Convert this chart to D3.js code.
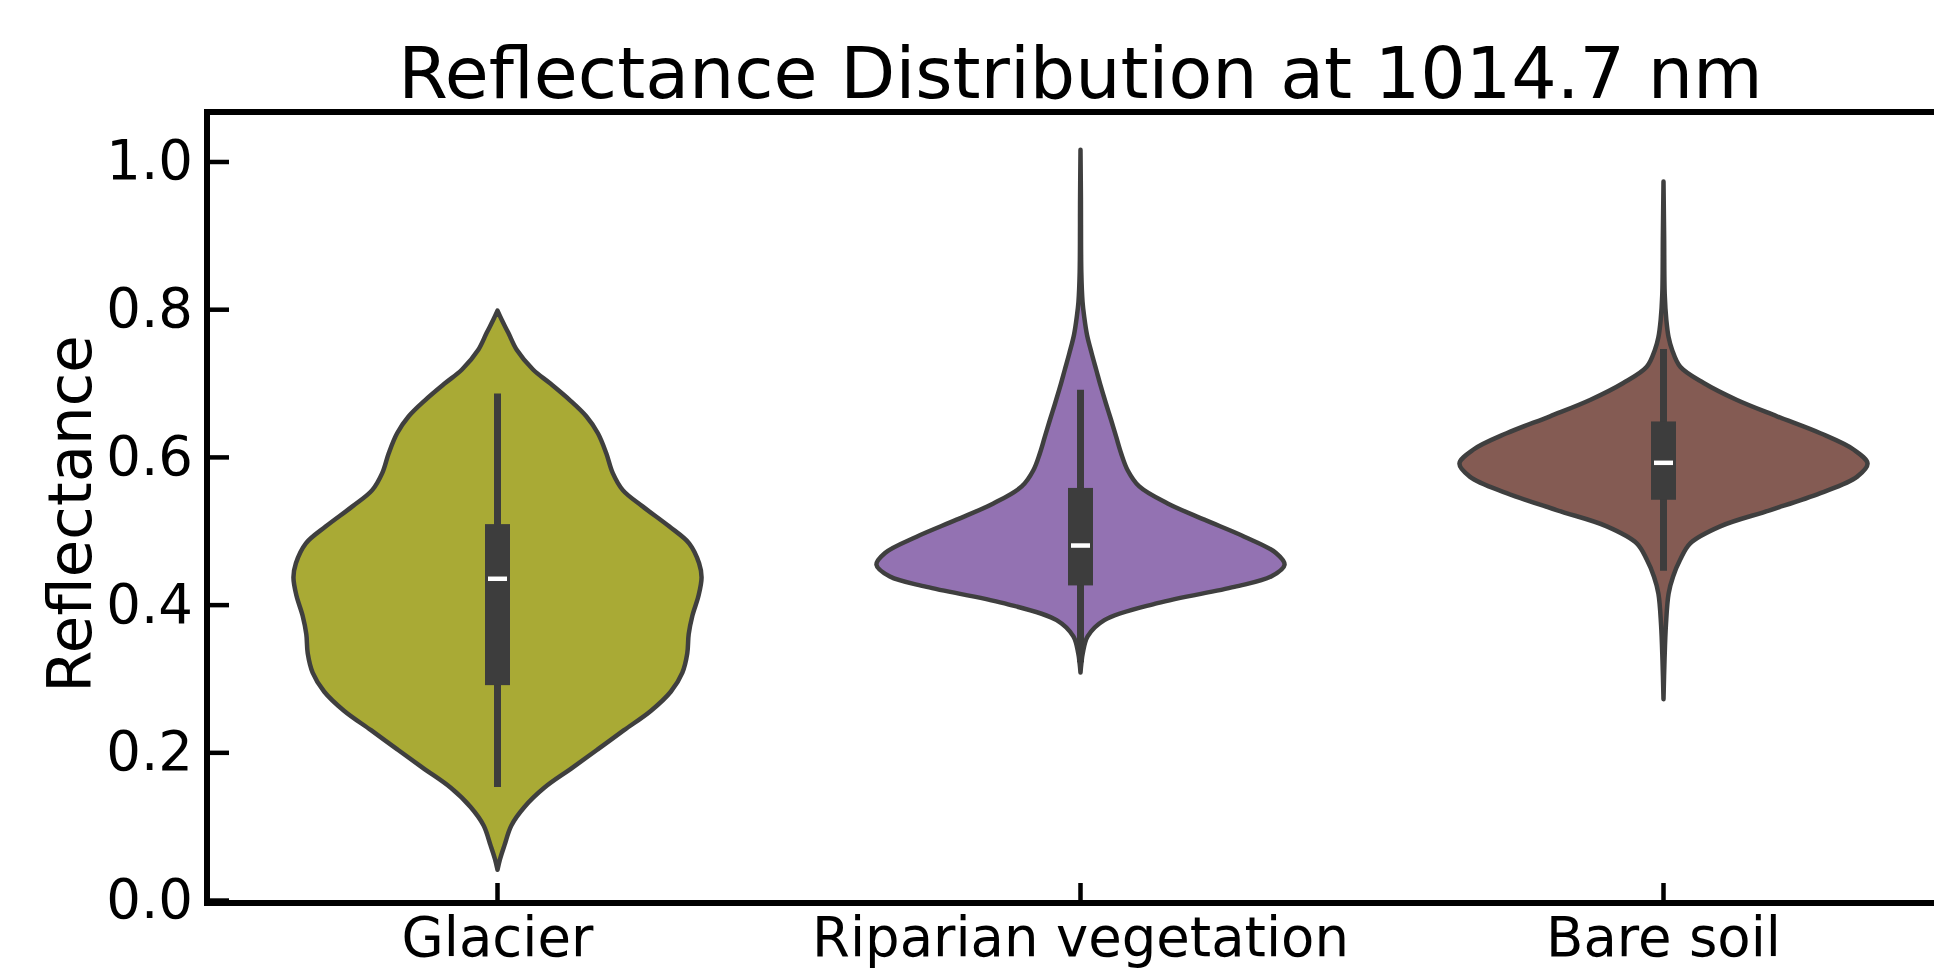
<!DOCTYPE html>
<html lang="en">

<head>
  <title>Reflectance Distribution at 1014.7 nm</title>
  <meta charset="UTF-8">
  <style>
    body { margin: 0; background: #fff; }
    svg { display: block; font-family: "DejaVu Sans", sans-serif; }
  </style>
</head>

<body>
  <svg id="chart" width="1934" height="972"></svg>
  <script src="https://cdn.jsdelivr.net/npm/d3@7"></script>
  <script>
    // categories on the x axis
    var categories = ["Glacier", "Riparian vegetation", "Bare soil"];

    // violin outlines: [reflectance, relative half-width]
    var glacierDensity = [
      [0.798, 0], [0.786, 0.02], [0.768, 0.053], [0.745, 0.094], [0.718, 0.175],
      [0.700, 0.256], [0.677, 0.354], [0.655, 0.435], [0.632, 0.492], [0.605, 0.533],
      [0.578, 0.565], [0.555, 0.614], [0.533, 0.711], [0.506, 0.841], [0.483, 0.939],
      [0.456, 0.988], [0.437, 1.0], [0.412, 0.985], [0.385, 0.955], [0.360, 0.937],
      [0.334, 0.93], [0.308, 0.906], [0.282, 0.849], [0.256, 0.751], [0.230, 0.62],
      [0.204, 0.491], [0.178, 0.361], [0.152, 0.229], [0.126, 0.132], [0.101, 0.068],
      [0.074, 0.034], [0.055, 0.012], [0.041, 0]
    ];
    var riparianDensity = [
      [1.016, 0], [0.95, 0.002], [0.85, 0.004], [0.81, 0.010], [0.790, 0.018],
      [0.765, 0.032], [0.740, 0.055], [0.718, 0.077], [0.695, 0.10], [0.672, 0.125],
      [0.650, 0.15], [0.627, 0.175], [0.605, 0.199], [0.582, 0.231], [0.560, 0.288],
      [0.537, 0.427], [0.515, 0.607], [0.492, 0.803], [0.470, 0.958], [0.454, 1.0],
      [0.438, 0.934], [0.424, 0.754], [0.402, 0.377], [0.379, 0.117], [0.357, 0.035],
      [0.334, 0.011], [0.320, 0.004], [0.308, 0]
    ];
    var bareSoilDensity = [
      [0.973, 0], [0.90, 0.003], [0.82, 0.006], [0.785, 0.014], [0.762, 0.025],
      [0.745, 0.042], [0.722, 0.082], [0.700, 0.197], [0.677, 0.36], [0.655, 0.556],
      [0.632, 0.769], [0.610, 0.931], [0.591, 1.0], [0.573, 0.948], [0.551, 0.769],
      [0.528, 0.524], [0.506, 0.278], [0.483, 0.131], [0.461, 0.082], [0.438, 0.047],
      [0.415, 0.025], [0.373, 0.012], [0.325, 0.005], [0.272, 0]
    ];

    // inner box stats, one value per category
    var whiskerLow = [0.153, 0.322, 0.446];
    var q1 = [0.291, 0.426, 0.542];
    var medians = [0.435, 0.480, 0.592];
    var q3 = [0.509, 0.558, 0.648];
    var whiskerHigh = [0.686, 0.691, 0.746];

    var yTicks = [0, 0.2, 0.4, 0.6, 0.8, 1.0];
    var yLimits = [-0.004, 1.067];

    var densities = [glacierDensity, riparianDensity, bareSoilDensity];
    var colors = ["#a9aa35", "#9372b2", "#845b53"];
    var lineGray = "#3f3f3f";

    // layout: the axes run off the right edge, as in the picture
    var plotLeft = 206, plotTop = 112, plotBottom = 903, step = 583;
    var plotRight = plotLeft + step * categories.length;

    var svg = d3.select("#chart");

    var x = d3.scaleBand().domain(categories).range([plotLeft, plotRight]).padding(0);
    var y = d3.scaleLinear().domain(yLimits).range([plotBottom, plotTop]);
    var halfWidth = d3.scaleLinear().domain([0, 1]).range([0, step * 0.35]);

    // violins
    var violins = svg.append("g");
    categories.forEach(function (cat, i) {
      var cx = x(cat) + x.bandwidth() / 2;
      var area = d3.area()
        .curve(d3.curveCatmullRom.alpha(0.5))
        .y(function (d) { return y(d[0]); })
        .x0(function (d) { return cx - halfWidth(d[1]); })
        .x1(function (d) { return cx + halfWidth(d[1]); });

      violins.append("path")
        .attr("d", area(densities[i]))
        .attr("fill", colors[i])
        .attr("stroke", lineGray)
        .attr("stroke-width", 4.5)
        .attr("stroke-linejoin", "round");

      violins.append("line")
        .attr("x1", cx).attr("x2", cx)
        .attr("y1", y(whiskerLow[i])).attr("y2", y(whiskerHigh[i]))
        .attr("stroke", "#3d3d3d")
        .attr("stroke-width", 7);

      violins.append("rect")
        .attr("x", cx - 12.5)
        .attr("width", 25)
        .attr("y", y(q3[i]))
        .attr("height", y(q1[i]) - y(q3[i]))
        .attr("fill", "#3d3d3d");

      violins.append("line")
        .attr("x1", cx - 9.5).attr("x2", cx + 9.5)
        .attr("y1", y(medians[i])).attr("y2", y(medians[i]))
        .attr("stroke", "#fff")
        .attr("stroke-width", 4.5);
    });

    // axes, ticks pointing inward
    var yAxis = svg.append("g")
      .attr("transform", "translate(" + (plotLeft + 1) + ",0)")
      .call(d3.axisLeft(y).tickValues(yTicks).tickFormat(d3.format(".1f"))
        .tickSizeInner(-22).tickSizeOuter(0).tickPadding(14));

    var xAxis = svg.append("g")
      .attr("transform", "translate(0," + plotBottom + ")")
      .call(d3.axisBottom(x).tickSizeInner(-20).tickSizeOuter(0).tickPadding(14));

    [yAxis, xAxis].forEach(function (g) {
      g.select(".domain").remove();
      g.selectAll(".tick line").attr("stroke", "#000").attr("stroke-width", 4.5);
      g.selectAll(".tick text")
        .attr("fill", "#000")
        .style("font-family", "'DejaVu Sans', sans-serif")
        .style("font-size", "54.5px");
    });

    // spines
    svg.append("rect")
      .attr("x", plotLeft + 1)
      .attr("y", plotTop)
      .attr("width", plotRight - plotLeft)
      .attr("height", plotBottom - plotTop)
      .attr("fill", "none")
      .attr("stroke", "#000")
      .attr("stroke-width", 6);

    svg.append("text")
      .attr("x", (plotLeft + plotRight) / 2)
      .attr("y", 98)
      .attr("text-anchor", "middle")
      .style("font-size", "71.5px")
      .text("Reflectance Distribution at 1014.7 nm");

    svg.append("text")
      .attr("transform", "translate(91,514) rotate(-90)")
      .attr("text-anchor", "middle")
      .style("font-size", "61px")
      .text("Reflectance");
  </script>
</body>

</html>
